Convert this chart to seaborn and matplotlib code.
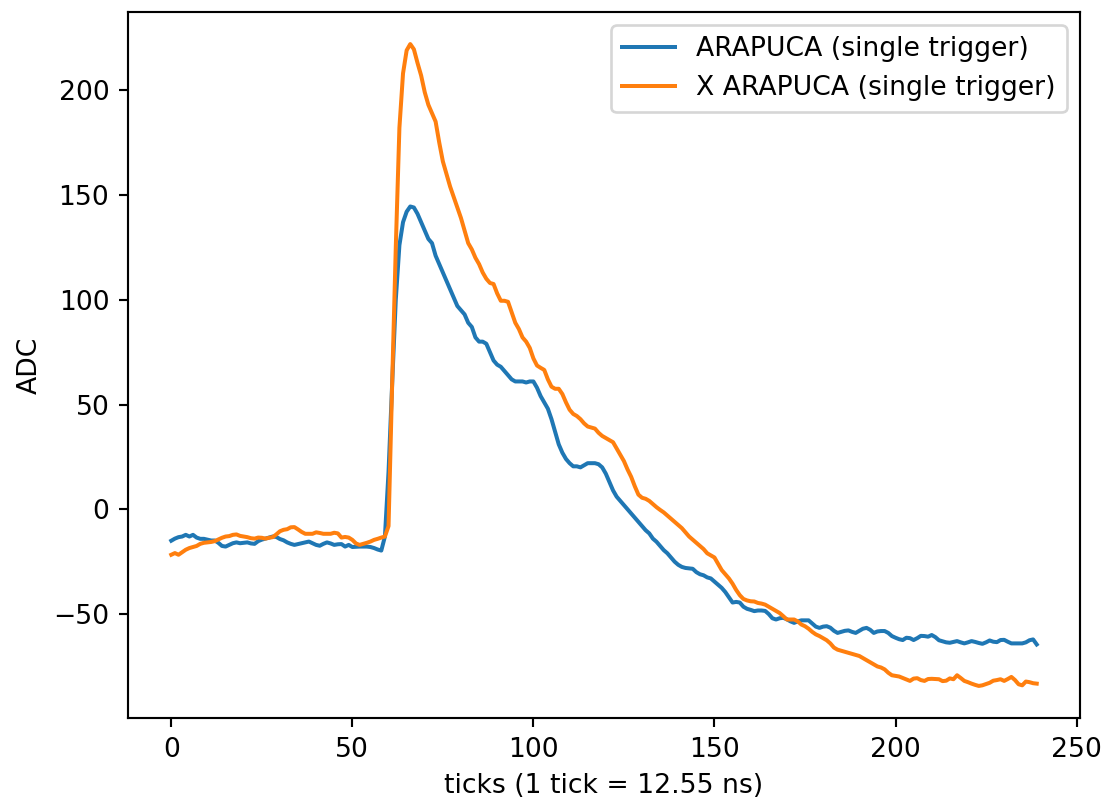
import numpy as np
import pandas as pd
import matplotlib
matplotlib.use("Agg")
import matplotlib.pyplot as plt
import seaborn as sns

ticks = list(range(240))

arapuca = [
    -15, -14, -13.3, -13, -12.2, -13, -12.2, -13.5, -14.1, -14.1,
    -14.5, -14.9, -14.9, -16, -17.5, -17.8, -17, -16.2, -15.8, -16.2,
    -16, -15.8, -16.3, -16.5, -15.2, -14.5, -14, -13.5, -13, -13.2,
    -14.2, -14.8, -15.8, -16.5, -17, -16.6, -16.2, -15.8, -15.4, -16.2,
    -17, -17.4, -16.5, -15.8, -16.3, -17, -16.7, -16.6, -17.8, -17,
    -18, -17.9, -17.8, -17.8, -17.8, -18, -18.5, -19.2, -19.7, -13,
    18, 60, 100, 126, 137, 142, 144.5, 144, 141, 137,
    133, 129, 127, 121, 117, 113, 109, 105, 101, 97,
    95, 93, 89, 87, 82, 80, 80, 79, 75, 71,
    69, 68, 66, 64, 62, 61, 61, 61, 60.5, 61,
    61, 58, 54, 51, 48, 43, 37, 31, 27, 24,
    22, 20.5, 20.5, 20, 21, 22, 22, 22, 21.5, 20,
    17, 13, 9, 6, 4, 2, 0, -2, -4, -6,
    -8, -10, -11.5, -14, -15.5, -17.5, -19.5, -21, -23, -25,
    -26.5, -27.5, -28, -28.2, -28.4, -30, -31, -31.5, -32.5, -33,
    -34.5, -36, -37.5, -39.5, -42, -44.5, -44.2, -44.5, -46.5, -47.5,
    -48, -48.6, -48.3, -48.3, -48.5, -50, -52, -52.6, -52, -51.8,
    -52.5, -53.5, -54.2, -53.5, -53, -53, -53, -54.5, -56, -56.6,
    -56, -55.8, -56.5, -58, -59, -58.5, -58, -57.8, -58.5, -59,
    -58, -57, -56.6, -57.5, -59, -58.3, -58.1, -58.1, -59, -60.5,
    -61.3, -62, -62.4, -61.3, -61.5, -62.4, -61.5, -60.4, -60.5, -60.8,
    -60, -61, -62.5, -63, -63.5, -63.7, -63.3, -62.9, -63.5, -64,
    -63.5, -62.9, -63.3, -63.8, -64.2, -63.5, -62.6, -63.2, -63.4, -62.4,
    -62.3, -63.2, -64, -64, -64, -64, -63.5, -62.5, -62.1, -64.5,
]

x_arapuca = [
    -21.7, -20.9, -21.7, -20.5, -19.3, -18.5, -18, -17.5, -16.5, -16,
    -15.8, -15.6, -15.2, -14.4, -13.6, -13, -12.8, -12.2, -12, -12.7,
    -13, -13.3, -13.8, -14, -13.5, -13.6, -14, -13.6, -13.3, -12,
    -10.5, -9.8, -9.5, -8.6, -8.5, -9.6, -10.8, -11.7, -11.7, -11.7,
    -11, -11.3, -11.7, -11.7, -11.7, -11.2, -11.5, -13.5, -13.2, -13.5,
    -14.6, -16.3, -17, -16.5, -16, -15.4, -14.6, -14.1, -13.5, -13,
    -8, 60, 125, 182, 208, 219, 222, 219.5, 213, 207,
    199, 193, 189, 185, 175, 166, 160, 154, 149, 144,
    139, 133, 127, 124, 120, 117, 113, 110, 108, 107.5,
    103, 99.5, 99.5, 99, 94, 89, 86, 82, 80, 77,
    72, 68.6, 67.5, 66.5, 62, 58.5, 57.5, 57.5, 55, 51,
    47.5, 45.5, 44.5, 43, 41, 39.5, 39, 38.5, 36.5, 35,
    34, 33, 32, 29, 26, 23, 19, 15.5, 11, 7,
    5.5, 5, 4, 2.5, 1, -0.3, -1.5, -3, -4.5, -6,
    -7.5, -9, -11, -13, -14.5, -16, -17.5, -19, -21, -22,
    -23, -26, -29, -31, -33, -35.5, -38.5, -41, -42.8, -43.5,
    -43.9, -44, -44.7, -45, -45.5, -46.5, -47.5, -48.5, -49.5, -51,
    -52.6, -52.6, -52.6, -53.5, -55, -55.8, -57, -58.5, -59.7, -60.5,
    -61.5, -62.5, -64, -66, -67, -67.5, -68, -68.5, -69, -69.5,
    -70, -71, -72, -73, -74, -75, -75.5, -76.4, -78, -79.2,
    -79.5, -79.8, -80.5, -81.2, -81.9, -80.8, -80.6, -81.5, -81.9, -81,
    -80.9, -81, -81.1, -82, -81.8, -80.7, -81.1, -79.2, -80.5, -81.9,
    -82.5, -83.2, -83.8, -84.3, -84, -83.4, -82.8, -81.8, -81.5, -81.1,
    -81.9, -81, -80, -81.5, -83.5, -84, -82.2, -82.5, -83, -83.2,
]

labels = ["ARAPUCA (single trigger)", "X ARAPUCA (single trigger)"]
colors = ["#1f77b4", "#ff7f0e"]

df = pd.DataFrame({
    "tick": ticks + ticks,
    "adc": arapuca + x_arapuca,
    "series": [labels[0]] * len(ticks) + [labels[1]] * len(ticks),
})

dpi = 192
fig = plt.figure(figsize=(1110 / dpi, 802 / dpi), dpi=dpi)
ax = fig.add_axes([128 / 1110, 1 - 718 / 802, (1080 - 128) / 1110, (718 - 12) / 802])

sns.lineplot(data=df, x="tick", y="adc", hue="series", palette=colors,
             linewidth=1.5, ax=ax, estimator=None)

ax.set_xlabel("ticks (1 tick = 12.55 ns)")
ax.set_ylabel("ADC")
ax.set_xticks([0, 50, 100, 150, 200, 250])
ax.set_yticks([-50, 0, 50, 100, 150, 200])
ax.set_xlim(-11.95, 250.95)
ax.set_ylim(-99.6, 237.3)
leg = ax.legend(loc="upper right")

fig.savefig("out.png", dpi=dpi)
